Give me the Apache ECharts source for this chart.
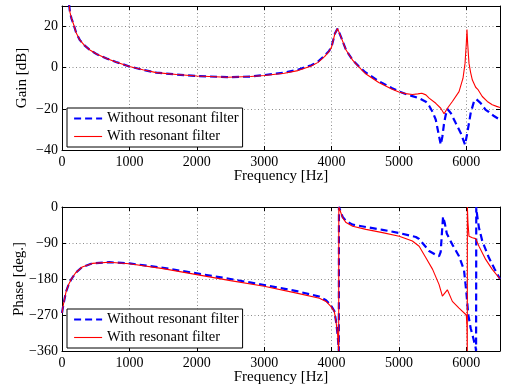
<!DOCTYPE html>
<html><head><meta charset="utf-8">
<script src="https://cdn.jsdelivr.net/npm/echarts@6/dist/echarts.min.js"></script>
<style>html,body{margin:0;padding:0;background:#fff}#c{width:505px;height:389px}</style>
</head><body><div id="c"></div>
<script>
const seriesNames = ['Without resonant filter', 'With resonant filter'];

const gainFreqWithout = [80,108,118,140,168,210,266,330,414,520,662,800,1000,1200,1400,1700,2000,2450,2800,3000,3300,3500,3700,3800,3900,3960,4000,4050,4090,4140,4215,4313,4400,
  4500,4700,4900,5000,5100,5200,5300,5400,5448,5500,5547,5596,5621,5645,5670,5695,5720,5769,5843,5917,5981,6015,6065,6114,6148,6213,6287,6336,6410,6500];
const gainWithout = [36,30,27,24,21.5,17,13.4,11,8.6,6.5,4.5,2.8,0.6,-1,-2.4,-3.3,-4.0,-4.6,-4.3,-3.6,-2.4,-1.0,1.2,3.0,6.0,8.0,10.2,16.6,19,15,8.6,3.7,0.8,
  -2.2,-6.5,-10,-11.5,-12.8,-13.8,-14.8,-16.5,-18.5,-21.5,-25.3,-33.4,-37.4,-33.4,-27,-22.9,-20.1,-22,-26.9,-31.7,-37.4,-31.7,-22,-16.4,-15.3,-17.2,-20.5,-21.5,-23.5,-25.3];

const gainFreqWith = [80,108,118,140,168,210,266,330,414,520,662,800,1000,1200,1400,1700,2000,2450,2800,3000,3300,3500,3700,3800,3900,3960,4000,4050,4090,4140,4215,4313,4400,
  4500,4700,4900,5000,5100,5200,5280,5340,5400,5448,5547,5621,5670,5720,5793,5892,5951,5981,6000,6010,6020,6040,6065,6090,6139,6170,6237,6311,6385,6450,6500];
const gainWith = [36,30,27,24,21.5,17,13.4,11,8.6,6.5,4.5,2.8,0.6,-1,-2.4,-3.3,-4.0,-4.6,-4.3,-3.8,-2.7,-1.4,0.8,2.6,5.5,7.8,10,16.6,19,15,8.6,3.7,0.5,
  -2.8,-7.2,-10.5,-11.8,-12.6,-13.0,-12.7,-12.4,-13.2,-14.8,-17.3,-19.7,-22.4,-19.7,-16.4,-11.6,-5.1,2.1,11.8,18.6,11.8,2.1,-2.5,-6,-9.5,-10.5,-14,-16.4,-18,-18.8,-19.3];

const phaseFreqWithout = [0,25,60,100,140,200,300,450,700,1000,1500,2000,2500,3000,3500,3820,3918,3993,4041,4066,4091,4108,4110,4126,4165,4215,4313,4511,4757,5004,5251,5300,5400,5448,5500,5550,5596,5620,5640,5655,5680,5710,5793,5892,5966,6000,6030,6065,6104,6139,6145,6148,6160,6188,6237,6336,6420,6500];
const phaseWithout = [-265,-240,-212,-193,-180,-165,-150,-141,-138,-141,-152,-166,-180,-195,-211,-224,-233,-246,-260,-285,-320,-360,0,-5,-25,-35,-44,-50,-57,-65,-75,-80,-100,-110,-115,-120,-123,-112,-60,-24,-40,-66,-94,-123,-158,-212,-270,-303,-328,-352,-360,0,-20,-52,-85,-127,-155,-180];

const phaseFreqWith = [0,25,60,100,140,200,300,450,700,1000,1500,2000,2500,3000,3500,3820,3918,3993,4041,4066,4091,4106,4108,4126,4165,4215,4313,4511,4757,5004,5200,5300,5400,5500,5596,5645,5660,5719,5740,5793,5892,6000,6010,6015,6016,6025,6040,6090,6139,6188,6287,6385,6500];
const phaseWith = [-265,-240,-212,-193,-180,-165,-150,-141,-138,-142,-154,-169,-184,-198,-216,-228,-236,-249,-261,-286,-320,-360,0,-5,-27,-39,-48,-56,-64,-73,-85,-98,-127,-156,-194,-223,-222,-207,-212,-236,-253,-270,-300,-360,0,-40,-73,-77,-79,-98,-131,-156,-180];

function pairs(f, v) { return f.map((x, i) => [x, v[i]]); }
const FONT = 'Liberation Serif';
const fmt = v => String(v).replace('-', '\u2212');
const gridLine = {show:true, lineStyle:{color:'#8c8c8c', type:[1,2.5], width:1}};

function mainX(gi) {
  return {type:'value', gridIndex:gi, min:0, max:6500, interval:1000,
    name:'Frequency [Hz]', nameLocation:'middle', nameGap:19, nameMoveOverlap:false,
    nameTextStyle:{fontFamily:FONT, fontSize:15, color:'#000'},
    axisLine:{onZero:false, lineStyle:{color:'#000', width:1}},
    axisTick:{inside:true, length:4, lineStyle:{color:'#000'}},
    axisLabel:{fontFamily:FONT, fontSize:14, color:'#000', margin:5, showMaxLabel:false, formatter:fmt},
    splitLine:gridLine};
}
function mainY(gi, min, max, interval, name, showMax, gap) {
  return {type:'value', gridIndex:gi, min:min, max:max, interval:interval,
    name:name, nameLocation:'middle', nameGap:gap, nameRotate:90, nameMoveOverlap:false,
    nameTextStyle:{fontFamily:FONT, fontSize:15, color:'#000'},
    axisLine:{onZero:false, lineStyle:{color:'#000', width:1}},
    axisTick:{inside:true, length:4, lineStyle:{color:'#000'}},
    axisLabel:{fontFamily:FONT, fontSize:14, color:'#000', margin:4, showMaxLabel:showMax, showMinLabel:true, formatter:fmt},
    splitLine:gridLine};
}
function secX(gi) {
  return {type:'value', gridIndex:gi, position:'top', min:0, max:6500, interval:1000,
    axisLine:{onZero:false, lineStyle:{color:'#000', width:1}},
    axisTick:{inside:true, length:4, lineStyle:{color:'#000'}},
    axisLabel:{show:false}, splitLine:{show:false}};
}
function secY(gi, min, max, interval) {
  return {type:'value', gridIndex:gi, position:'right', min:min, max:max, interval:interval,
    axisLine:{onZero:false, lineStyle:{color:'#000', width:1}},
    axisTick:{inside:true, length:4, lineStyle:{color:'#000'}},
    axisLabel:{show:false}, splitLine:{show:false}};
}
const blueStyle = {color:'#0000ff', width:2.2, type:[7,4]};
const redStyle = {color:'#ff0000', width:1.1, type:'solid'};
function legendAt(top) {
  return {show:true, left:67, top:top, orient:'vertical',
    data:[{name:seriesNames[0], lineStyle:{width:2.2}}, {name:seriesNames[1], lineStyle:{width:1.1}}],
    backgroundColor:'#fff', borderColor:'#000', borderWidth:1, borderRadius:0,
    padding:[3,4,3,6], itemWidth:28, itemHeight:14, itemGap:3, selectedMode:false,
    itemStyle:{opacity:0, borderWidth:0},
    textStyle:{fontFamily:FONT, fontSize:14.5, color:'#000'}};
}
function line(name, xi, yi, data, style, z) {
  return {type:'line', name:name, xAxisIndex:xi, yAxisIndex:yi, data:data,
    symbol:'none', showSymbol:false, lineStyle:style, itemStyle:{color:style.color},
    z:z, clip:true, animation:false, emphasis:{disabled:true}};
}

const chart = echarts.init(document.getElementById('c'), null, {renderer:'canvas'});
chart.setOption({
  animation:false,
  backgroundColor:'#fff',
  grid:[{left:62, right:5, top:6, height:144}, {left:62, right:5, top:207, height:144}],
  xAxis:[mainX(0), mainX(1), secX(0), secX(1)],
  yAxis:[mainY(0,-40,30,20,'Gain [dB]', false, 32), mainY(1,-360,0,90,'Phase [deg.]', true, 35), secY(0,-40,30,20), secY(1,-360,0,90)],
  legend:[legendAt(108), legendAt(309)],
  series:[
    line(seriesNames[0], 0, 0, pairs(gainFreqWithout, gainWithout), blueStyle, 2),
    line(seriesNames[1], 0, 0, pairs(gainFreqWith, gainWith), redStyle, 3),
    line(seriesNames[0], 1, 1, pairs(phaseFreqWithout, phaseWithout), blueStyle, 2),
    line(seriesNames[1], 1, 1, pairs(phaseFreqWith, phaseWith), redStyle, 3)
  ]
});
</script></body></html>
